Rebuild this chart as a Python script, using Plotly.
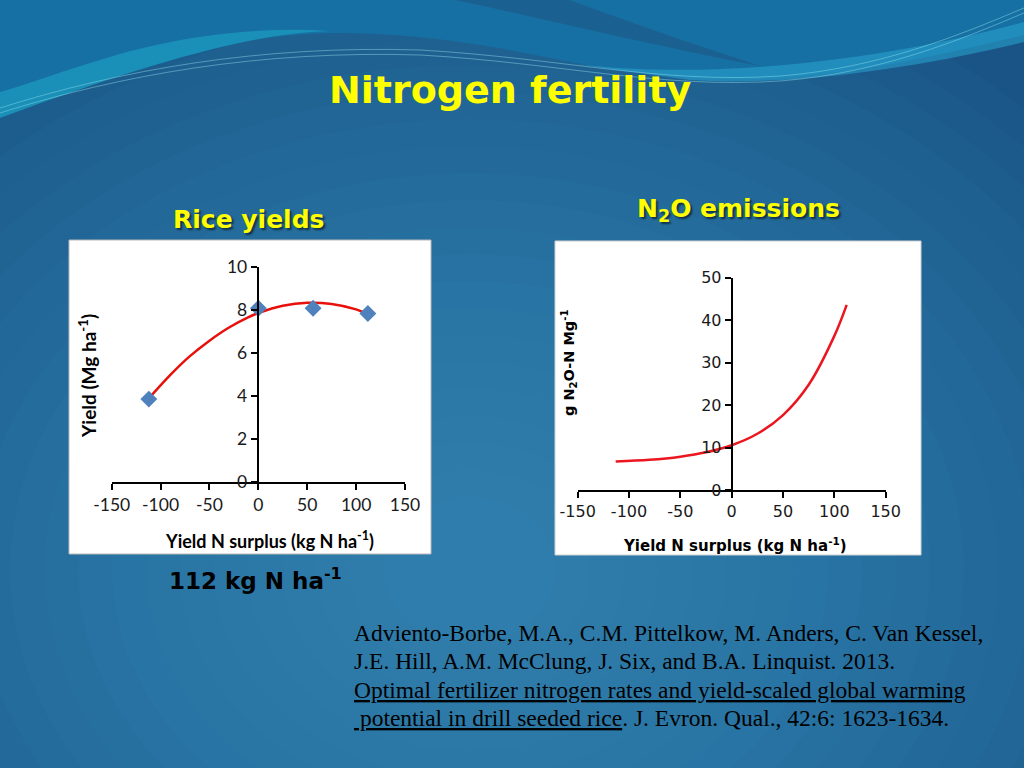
import plotly.graph_objects as go

W, H = 1024, 768

# --- data ---
surplus_tick_vals = [-150, -100, -50, 0, 50, 100, 150]

# rice yields: observed points and the fitted curve
yield_surplus = [-112, 0, 56, 112]
yield_obs = [3.86, 8.07, 8.07, 7.83]
yield_fit_x = [-112, -90, -70, -50, -30, -10, 0, 25, 50, 75, 100, 112]
yield_fit_y = [3.89, 4.98, 5.85, 6.57, 7.18, 7.66, 7.85, 8.19, 8.33, 8.27, 8.02, 7.8]
yield_tick_vals = [0, 2, 4, 6, 8, 10]

# N2O emissions curve
n2o_x = [-113, -80, -50, -25, 0, 25, 50, 75, 100, 112]
n2o_y = [6.7, 7.1, 7.85, 8.88, 10.55, 13.25, 17.65, 24.8, 36.3, 43.6]
n2o_tick_vals = [0, 10, 20, 30, 40, 50]

citation_lines = [
    "Adviento-Borbe, M.A., C.M. Pittelkow, M. Anders, C. Van Kessel,",
    "J.E. Hill, A.M. McClung, J. Six, and B.A. Linquist. 2013.",
    '<span style="text-decoration:underline">Optimal fertilizer nitrogen rates and yield-scaled global warming</span>',
    '<span style="text-decoration:underline"> potential in drill seeded rice</span>. J. Evron. Qual., 42:6: 1623-1634.',
]


def px(x, y):
    # pixel position on the slide -> paper coords
    return x / W, 1 - y / H


def path(cmds):
    out = []
    for c in cmds:
        op, nums = c[0], c[1:]
        pts = []
        for i in range(0, len(nums), 2):
            X, Y = px(nums[i], nums[i + 1])
            pts.append(f"{X:.4f},{Y:.4f}")
        out.append(op + " " + " ".join(pts))
    return " ".join(out)


shapes = []

# radial-ish glow of the slide background (many faint ellipses = soft gradient)
for i in range(22):
    rx, ry = 800 - i * 34, 640 - i * 27
    cx, cy = 470, 570
    x0, y0 = px(cx - rx, cy - ry)
    x1, y1 = px(cx + rx, cy + ry)
    shapes.append(dict(type='circle', xref='paper', yref='paper', x0=x0, x1=x1, y0=y1, y1=y0,
                       fillcolor='rgba(75,160,215,0.045)', line_width=0, layer='below'))

# top wave band
shapes.append(dict(type='path', xref='paper', yref='paper', layer='below', line_width=0,
                   fillcolor='rgb(23,112,163)',
                   path=path([('M', 0, 0), ('L', 1024, 0), ('L', 1024, 35),
                              ('C', 930, 58, 820, 82, 720, 79),
                              ('C', 600, 75, 540, 52, 460, 42),
                              ('C', 380, 31, 300, 28, 230, 45),
                              ('C', 150, 63, 60, 96, 0, 118), ('Z',)])))
shapes.append(dict(type='path', xref='paper', yref='paper', layer='below', line_width=0,
                   fillcolor='rgba(30,170,200,0.55)',
                   path=path([('M', 0, 118), ('C', 60, 96, 150, 63, 230, 45),
                              ('C', 270, 36, 300, 32, 330, 31),
                              ('C', 250, 25, 160, 40, 100, 60),
                              ('C', 60, 72, 25, 85, 0, 92), ('Z',)])))
shapes.append(dict(type='path', xref='paper', yref='paper', layer='below', line_width=0,
                   fillcolor='rgba(28,92,140,0.75)',
                   path=path([('M', 455, 0), ('C', 550, 20, 650, 45, 760, 66),
                              ('C', 680, 40, 610, 15, 570, 0), ('Z',)])))
shapes.append(dict(type='path', xref='paper', yref='paper', layer='below', line_width=0,
                   fillcolor='rgba(40,165,210,0.55)',
                   path=path([('M', 560, 62), ('C', 700, 82, 880, 62, 1024, 22),
                              ('L', 1024, 42), ('C', 900, 72, 780, 86, 690, 80), ('Z',)])))
for dy in (0, 5):
    shapes.append(dict(type='path', xref='paper', yref='paper', layer='below',
                       line=dict(color='rgba(150,230,240,0.55)', width=0.8),
                       path=path([('M', 0, 108 + dy), ('C', 120, 70 + dy, 260, 45 + dy, 420, 50 + dy),
                                  ('C', 560, 58 + dy, 660, 84 + dy, 780, 76 + dy),
                                  ('C', 880, 68 + dy, 960, 35 + dy, 1024, 8 + dy)])))

# white chart panels
for (a, b, c, d, border) in [(69, 240, 431, 554, '#b8b8b8'), (555, 241, 921, 555, '#d0d0d0')]:
    x0, y0 = px(a, b)
    x1, y1 = px(c, d)
    shapes.append(dict(type='rect', xref='paper', yref='paper', x0=x0, x1=x1, y0=y1, y1=y0,
                       fillcolor='white', line=dict(color=border, width=1), layer='below'))

fig = go.Figure()
fig.add_trace(go.Scatter(x=yield_fit_x, y=yield_fit_y, mode='lines', xaxis='x', yaxis='y',
                         line=dict(color='#e8100b', width=2.5, shape='spline'), hoverinfo='skip'))
fig.add_trace(go.Scatter(x=yield_surplus, y=yield_obs, mode='markers', xaxis='x', yaxis='y',
                         marker=dict(symbol='diamond', size=13, color='#4f81bd')))
fig.add_trace(go.Scatter(x=n2o_x, y=n2o_y, mode='lines', xaxis='x2', yaxis='y2',
                         line=dict(color='#ec1620', width=2.5, shape='spline'), hoverinfo='skip'))

left_font = dict(family='Lato', size=17.5, color='#1a1a1a')
right_font = dict(family='DejaVu Sans', size=16, color='#1a1a1a')
axis_common = dict(showline=True, linecolor='black', linewidth=2, ticks='outside', ticklen=6,
                   tickwidth=2, tickcolor='black', showgrid=False, zeroline=False,
                   fixedrange=True, automargin=False)
surplus_tick_text = [str(v) for v in surplus_tick_vals]

lx0, ly_top = px(111.7, 266.7)
lx1, ly_bot = px(405, 482.3)
rx0, ry_top = px(577.7, 277.7)
rx1, ry_bot = px(885.7, 490)

fig.update_layout(
    width=W, height=H, margin=dict(l=0, r=0, t=0, b=0, autoexpand=False), autosize=False,
    paper_bgcolor='rgb(26,84,134)', plot_bgcolor='rgba(0,0,0,0)', showlegend=False,
    shapes=shapes,
    xaxis=dict(domain=[lx0, lx1], range=[-150, 150], tickvals=surplus_tick_vals,
               ticktext=surplus_tick_text, anchor='y', tickfont=left_font, **axis_common),
    yaxis=dict(domain=[ly_bot, ly_top], range=[0, 10], tickvals=yield_tick_vals, anchor='free',
               position=257.7 / W, tickfont=left_font, **axis_common),
    xaxis2=dict(domain=[rx0, rx1], range=[-150, 150], tickvals=surplus_tick_vals,
                ticktext=surplus_tick_text, anchor='y2', tickfont=right_font, **axis_common),
    yaxis2=dict(domain=[ry_bot, ry_top], range=[0, 50], tickvals=n2o_tick_vals, anchor='free',
                position=731.7 / W, tickfont=right_font, **axis_common),
)


def note(text, x, y, font, xanchor='center', **kw):
    X, Y = px(x, y)
    fig.add_annotation(text=text, x=X, y=Y, xref='paper', yref='paper', showarrow=False,
                       font=font, xanchor=xanchor, yanchor='middle', **kw)


yellow_shadow = '2px 2px 2px rgba(0,0,0,0.55)'
note("Nitrogen fertility", 510, 90, dict(family='DejaVu Sans', size=38, color='#ffff00',
                                          weight='bold'))
note("Rice yields", 248, 219, dict(family='DejaVu Sans', size=25, color='#ffff00',
                                   weight='bold', shadow=yellow_shadow))
note("N<sub>2</sub>O emissions", 738, 210, dict(family='DejaVu Sans', size=25, color='#ffff00',
                                                weight='bold', shadow=yellow_shadow))

note("Yield N surplus (kg N ha<sup>-1</sup>)", 269, 540,
     dict(family='Lato', size=18, color='black', weight='bold'))
note("Yield (Mg ha<sup>-1</sup>)", 88, 376,
     dict(family='Lato', size=19, color='black', weight='bold'), textangle=-90)
note("Yield N surplus (kg N ha<sup>-1</sup>)", 735, 545,
     dict(family='DejaVu Sans', size=15, color='black', weight='bold'))
note("g N<sub>2</sub>O-N Mg<sup>-1</sup>", 569, 363,
     dict(family='DejaVu Sans', size=14.5, color='black', weight='bold'), textangle=-90)

note("112 kg N ha<sup>-1</sup>", 255, 579,
     dict(family='DejaVu Sans', size=23, color='black', weight='bold'))

for i, line in enumerate(citation_lines):
    note(line, 352, 633 + i * 28.3, dict(family='Liberation Serif', size=23.5, color='black'),
         xanchor='left')

fig.write_html("out.html", config=dict(displayModeBar=False),
               post_script="document.body.style.margin='0';document.body.style.overflow='hidden';")
